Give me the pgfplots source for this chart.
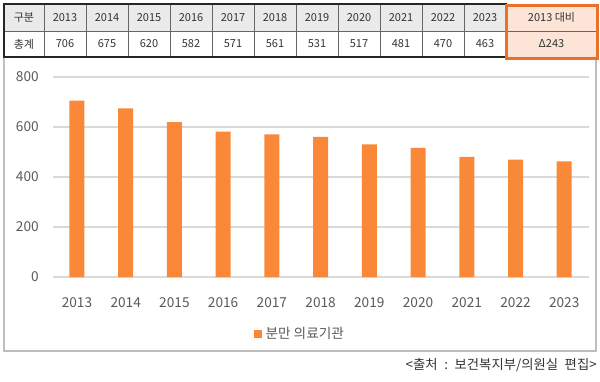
\documentclass[border=0pt]{standalone}
\usepackage{fontspec}
\setmainfont{Noto Sans CJK KR}
\usepackage{pgfplots}
\pgfplotsset{compat=1.18}
\definecolor{barorange}{RGB}{249,136,56}
\definecolor{boxorange}{RGB}{237,112,40}
\definecolor{peach}{RGB}{252,229,214}
\definecolor{hdrgray}{RGB}{234,234,234}
\definecolor{txtgray}{RGB}{89,89,89}
\definecolor{gridgray}{RGB}{217,217,217}
\definecolor{framegray}{RGB}{190,190,190}
\begin{document}
\begin{tikzpicture}[x=0.6pt,y=-0.6pt]
\useasboundingbox (0,0) rectangle (600,381);
% outer frame of chart
\draw[framegray, line width=0.8pt] (4,57) rectangle (596,351);
% table
\fill[hdrgray] (4,4) rectangle (506,31);
\fill[peach] (506,4) rectangle (597,58);
\foreach \i in {1,...,11} {\draw[black!60, line width=0.4pt] (44+42*\i,4) -- (44+42*\i,57);}
\draw[black!60, line width=0.4pt] (44,4) -- (44,57);
\draw[black!60, line width=0.4pt] (4,31) -- (506,31);
\draw[black!85, line width=0.9pt] (4,4) rectangle (506,57);
\draw[black!60, line width=0.4pt] (506,31) -- (597,31);
\begin{scope}[every node/.style={font=\fontsize{6.6pt}{7pt}\selectfont, text=black!80, inner sep=0pt}]
\node at (24,17.5) {구분};
\node at (24,44) {총계};
\foreach \i/\y/\v in {0/2013/706,1/2014/675,2/2015/620,3/2016/582,4/2017/571,5/2018/561,6/2019/531,7/2020/517,8/2021/481,9/2022/470,10/2023/463} {
  \node at (65+42*\i,17.5) {\y};
  \node at (65+42*\i,44) {\v};
}
\node at (551.5,17.5) {2013 대비};
\node at (551.5,44) {Δ243};
\end{scope}
\draw[boxorange, line width=1.8pt] (506.5,5.5) rectangle (597.5,58.5);
% chart
\begin{axis}[
  at={(31.56pt,-166.2pt)}, anchor=south west,
  scale only axis, width=321.6pt, height=120pt,
  xmin=2012.5, xmax=2023.5, ymin=0, ymax=800,
  ybar, bar width=9pt,
  xtick=data, ytick={0,200,400,600,800},
  /pgf/number format/assume math mode=true,
  /pgf/number format/1000 sep={},
  axis line style={draw=none},
  major tick length=0pt,
  ymajorgrids, major grid style={gridgray, line width=0.7pt},
  tick label style={font=\fontsize{8.2pt}{9pt}\selectfont, text=txtgray},
  yticklabel style={xshift=-4.8pt},
  xticklabel style={yshift=-9pt},
  legend style={at={(0.463,-0.285)}, anchor=center, draw=none, fill=none,
    font=\fontsize{8.2pt}{9pt}\selectfont, text=txtgray, inner sep=0pt},
  legend image code/.code={\fill[barorange] (0pt,-2.4pt) rectangle (4.8pt,2.4pt);},
]
\addplot[fill=barorange, draw=none] coordinates {
(2013,706) (2014,675) (2015,620) (2016,582) (2017,571) (2018,561)
(2019,531) (2020,517) (2021,481) (2022,470) (2023,463)};
\addlegendentry{분만 의료기관}
\end{axis}
\node[anchor=east, font=\fontsize{8pt}{9pt}\selectfont, text=black!80, inner sep=0pt] at (597,365) {<출처\hspace{4pt}:\hspace{4pt}보건복지부/의원실\hspace{4pt}편집>};
\end{tikzpicture}
\end{document}
